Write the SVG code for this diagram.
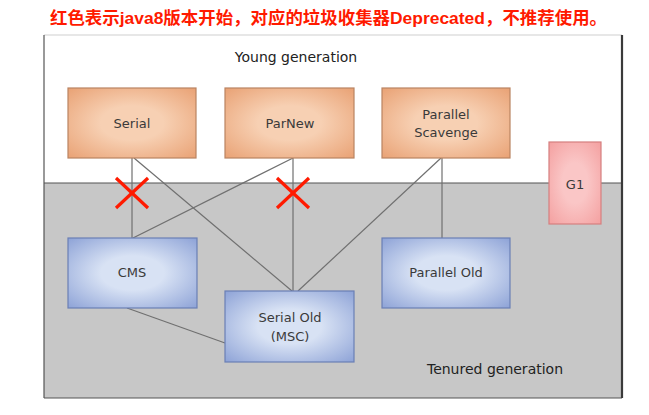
<svg xmlns="http://www.w3.org/2000/svg" width="649" height="415" viewBox="0 0 649 415">
<style>
.lbl{font-family:"DejaVu Sans","Noto Sans",sans-serif;font-size:13px;fill:#3a3a3a;text-anchor:middle}
.gen{font-family:"DejaVu Sans","Noto Sans",sans-serif;font-size:14px;fill:#222;text-anchor:middle}
.young{fill:url(#gO);stroke:#b98462;stroke-width:1.2}
.old{fill:url(#gB);stroke:#6a7fb5;stroke-width:1.2}
.g1{fill:url(#gR);stroke:#d57f7f;stroke-width:1.2}
.con line{stroke:#707070;stroke-width:1.2}
.x line{stroke:#ff1a00;stroke-width:3.2;stroke-linecap:butt}
</style>
<defs>
<radialGradient id="gO" cx="0.5" cy="0.5" r="0.7"><stop offset="0.35" stop-color="#f7d0b3"/><stop offset="1" stop-color="#e9a275"/></radialGradient>
<radialGradient id="gB" cx="0.5" cy="0.5" r="0.7"><stop offset="0.35" stop-color="#d8e2f4"/><stop offset="1" stop-color="#8ea3d7"/></radialGradient>
<radialGradient id="gR" cx="0.5" cy="0.5" r="0.7"><stop offset="0.35" stop-color="#fac6c6"/><stop offset="1" stop-color="#f4a0a0"/></radialGradient>
</defs>
<rect x="0" y="0" width="649" height="415" fill="#ffffff"/>
<text x="50" y="24" textLength="557" lengthAdjust="spacingAndGlyphs" style="font-family:'Liberation Sans','Noto Sans CJK SC',sans-serif;font-size:17px;font-weight:bold;fill:#ff1a00">红色表示java8版本开始，对应的垃圾收集器Deprecated，不推荐使用。</text>
<g id="frame">
<rect x="44" y="35" width="578" height="148" fill="#ffffff"/>
<rect x="44" y="183" width="578" height="215" fill="#c7c7c7"/>
<line x1="44" y1="35" x2="622" y2="35" stroke="#cfcfcf" stroke-width="1"/>
<line x1="44" y1="35" x2="44" y2="398" stroke="#555" stroke-width="1.2"/>
<line x1="44" y1="183" x2="622" y2="183" stroke="#555" stroke-width="1.2"/>
<line x1="44" y1="398" x2="622" y2="398" stroke="#555" stroke-width="1.2"/>
<line x1="622" y1="35" x2="622" y2="398" stroke="#3a3a3a" stroke-width="2.2"/>
<text class="gen" x="296" y="62">Young generation</text>
<text class="gen" x="495" y="374">Tenured generation</text>
</g>
<g id="connectors" class="con">
<line x1="132" y1="158" x2="132" y2="238"/>
<line x1="134" y1="158" x2="292" y2="291"/>
<line x1="293" y1="158" x2="293" y2="291"/>
<line x1="293" y1="158" x2="133" y2="238"/>
<line x1="442" y1="158" x2="442" y2="238"/>
<line x1="441" y1="158" x2="298" y2="291"/>
<line x1="127" y1="308" x2="225" y2="343"/>
</g>
<g id="serial"><rect class="young" x="68" y="88" width="128" height="70"/><text class="lbl" x="132" y="128">Serial</text></g>
<g id="parnew"><rect class="young" x="225" y="88" width="129" height="70"/><text class="lbl" x="290" y="128">ParNew</text></g>
<g id="parallel-scavenge"><rect class="young" x="382" y="88" width="128" height="70"/><text class="lbl" x="446" y="119">Parallel</text><text class="lbl" x="446" y="137">Scavenge</text></g>
<g id="g1"><rect class="g1" x="549" y="142" width="52" height="82"/><text class="lbl" x="575" y="189">G1</text></g>
<g id="cms"><rect class="old" x="68" y="238" width="129" height="70"/><text class="lbl" x="132" y="277">CMS</text></g>
<g id="serial-old"><rect class="old" x="225" y="291" width="129" height="71"/><text class="lbl" x="290" y="322">Serial Old</text><text class="lbl" x="290" y="341">(MSC)</text></g>
<g id="parallel-old"><rect class="old" x="382" y="238" width="128" height="70"/><text class="lbl" x="446" y="277">Parallel Old</text></g>
<g id="deprecated-marks" class="x">
<line x1="116" y1="178" x2="148" y2="208"/><line x1="148" y1="178" x2="116" y2="208"/>
<line x1="277" y1="178" x2="309" y2="208"/><line x1="309" y1="178" x2="277" y2="208"/>
</g>
</svg>
